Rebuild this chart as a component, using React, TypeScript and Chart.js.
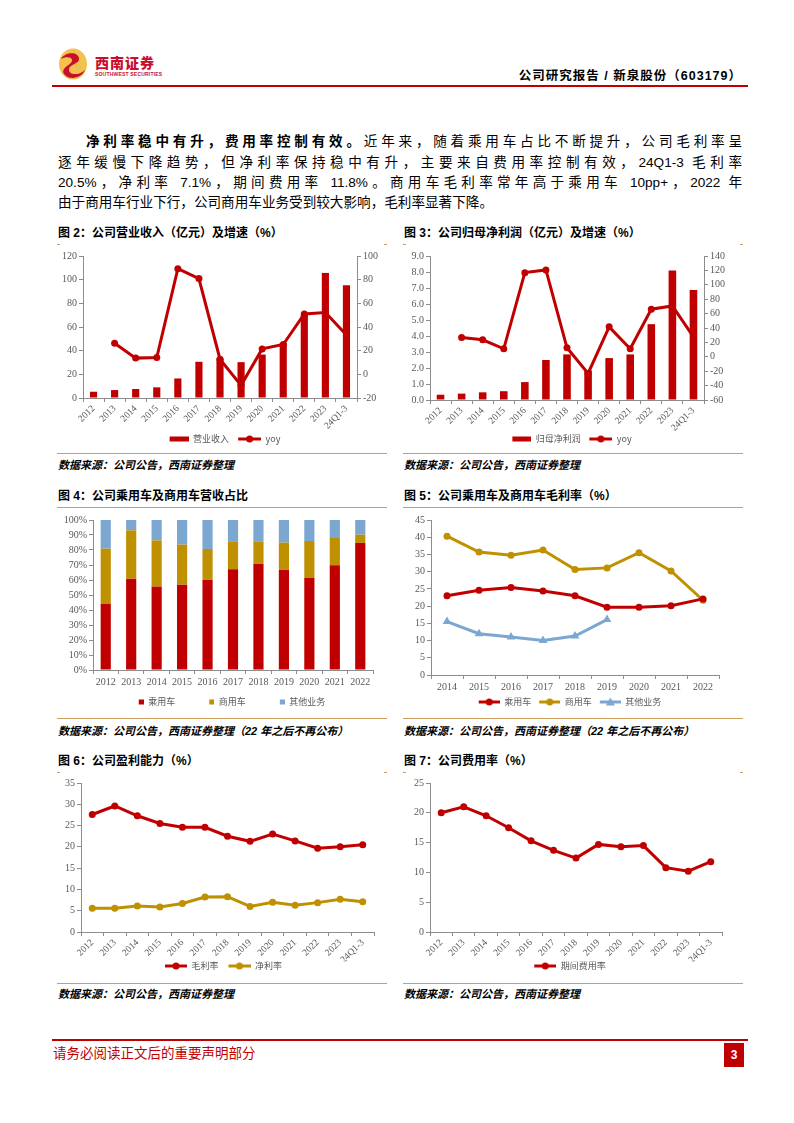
import React, { useEffect, useRef } from 'react';
import { Chart, registerables } from 'chart.js';
Chart.register(...registerables);

// ---------- data ----------
const LABELS13 = ['2012', '2013', '2014', '2015', '2016', '2017', '2018', '2019', '2020', '2021', '2022', '2023', '24Q1-3'];
const LABELS11 = ['2012', '2013', '2014', '2015', '2016', '2017', '2018', '2019', '2020', '2021', '2022'];
const LABELS9 = ['2014', '2015', '2016', '2017', '2018', '2019', '2020', '2021', '2022'];

const revenue = [5.3, 6.7, 7.6, 9.0, 16.5, 30.6, 33.6, 30.3, 36.7, 46.3, 70.6, 105.7, 95.3];
const revenueYoy = [null, 26.3, 13.7, 14.2, 89.3, 80.9, 12.8, -9.3, 21.5, 25.2, 51.0, 52.3, 33.3];

const netProfit = [0.33, 0.4, 0.48, 0.55, 1.12, 2.5, 2.85, 1.85, 2.62, 2.85, 4.74, 8.09, 6.88];
const netProfitYoy = [null, 26.8, 23.6, 11.1, 116.9, 120.6, 12.5, -23.1, 41.6, 11.1, 66.1, 70.7, 27.8];

const sharePassenger = [44.0, 60.9, 55.6, 56.9, 60.2, 67.1, 70.7, 66.7, 61.3, 69.8, 84.7];
const shareCommercial = [36.9, 32.2, 30.8, 26.7, 20.5, 18.7, 15.1, 18.2, 24.7, 18.2, 5.5];
const shareOther = [19.1, 6.9, 13.6, 16.4, 19.3, 14.2, 14.2, 15.1, 14.0, 12.0, 9.8];

const gmPassenger = [23.0, 24.6, 25.4, 24.4, 23.0, 19.7, 19.7, 20.1, 22.1];
const gmCommercial = [40.3, 35.7, 34.8, 36.3, 30.6, 31.1, 35.5, 30.2, 21.7];
const gmOther = [15.5, 12.0, 11.0, 10.0, 11.3, 16.1, null, null, null];

const grossMargin = [27.6, 29.6, 27.3, 25.5, 24.6, 24.6, 22.5, 21.3, 23.0, 21.4, 19.7, 20.0, 20.5];
const netMargin = [5.6, 5.6, 6.1, 5.9, 6.7, 8.2, 8.3, 6.0, 7.0, 6.3, 6.9, 7.7, 7.1];

const expenseRatio = [20.0, 21.0, 19.5, 17.5, 15.3, 13.7, 12.4, 14.7, 14.3, 14.5, 10.8, 10.2, 11.8];

// ---------- styles ----------
const SERIF = "'Liberation Serif','Times New Roman',serif";
const CJK = "'Noto Sans CJK SC','Noto Sans',sans-serif";
const BODY = "'Liberation Sans','Noto Sans CJK SC',sans-serif";
const TICK = '#595959';
const AXIS = '#8C8C8C';
const RED = '#C00000';
const GOLD = '#BF9000';
const BLUE = '#7BA7D1';
const ORANGE = '#CC9D5C';

function yAxis(min: number, max: number, step: number, width: number, position: string, fmt?: (v: number) => string) {
  return {
    type: 'linear',
    position,
    min,
    max,
    ticks: {
      stepSize: step,
      autoSkip: false,
      color: TICK,
      font: { family: SERIF, size: 10 },
      padding: 2,
      callback: fmt ? (v: any) => fmt(Number(v)) : (v: any) => String(v),
    },
    grid: { drawOnChartArea: false, drawTicks: true, tickLength: 4, color: AXIS },
    border: { color: AXIS, width: 1 },
    afterFit: (s: any) => {
      s.width = width;
    },
  };
}

function xAxis(height: number, rotate: boolean, stacked = false) {
  return {
    type: 'category',
    offset: true,
    stacked,
    ticks: {
      color: TICK,
      font: { family: SERIF, size: rotate ? 9.5 : 10 },
      minRotation: rotate ? 45 : 0,
      maxRotation: rotate ? 45 : 0,
      padding: rotate ? 1 : 2,
      autoSkip: false,
    },
    grid: { offset: true, drawOnChartArea: false, drawTicks: true, tickLength: 4, color: AXIS },
    border: { color: AXIS, width: 1 },
    afterFit: (s: any) => {
      s.height = height;
    },
  };
}

type Drawer = (ctx: CanvasRenderingContext2D, w: number, h: number) => void;

// line with a marker, starting at x0 (leading blank gives spacing between legend items)
const lineMark = (color: string, marker: 'circle' | 'triangle', x0 = 0): Drawer => (ctx, w, h) => {
  ctx.strokeStyle = color;
  ctx.lineWidth = 3;
  ctx.beginPath();
  ctx.moveTo(x0, h / 2);
  ctx.lineTo(w, h / 2);
  ctx.stroke();
  ctx.fillStyle = color;
  const cx = (x0 + w) / 2;
  ctx.beginPath();
  if (marker === 'circle') {
    ctx.arc(cx, h / 2, 3.5, 0, Math.PI * 2);
  } else {
    ctx.moveTo(cx, h / 2 - 4.5);
    ctx.lineTo(cx + 4.5, h / 2 + 3.5);
    ctx.lineTo(cx - 4.5, h / 2 + 3.5);
    ctx.closePath();
  }
  ctx.fill();
};

const rectMark = (color: string, x0: number, rw: number, rh: number): Drawer => (ctx, w, h) => {
  ctx.fillStyle = color;
  ctx.fillRect(x0, (h - rh) / 2, rw, rh);
};

function makeLegend(items: { text: string; draw: Drawer }[], boxW: number, pad: number) {
  const imgs = items.map((it) => {
    const c = document.createElement('canvas');
    c.width = boxW;
    c.height = 12;
    it.draw(c.getContext('2d') as CanvasRenderingContext2D, boxW, 12);
    return c;
  });
  return {
    display: true,
    position: 'bottom',
    labels: {
      usePointStyle: true,
      pointStyleWidth: boxW,
      boxHeight: 10,
      padding: pad,
      color: TICK,
      font: { family: CJK, size: 9 },
      generateLabels: () =>
        items.map((it, i) => ({
          text: it.text,
          pointStyle: imgs[i],
          fillStyle: 'rgba(0,0,0,0)',
          strokeStyle: 'rgba(0,0,0,0)',
          lineWidth: 0,
          hidden: false,
          datasetIndex: i,
          fontColor: TICK,
        })),
    },
  };
}

const lineDs = (label: string, data: any[], color: string, yAxisID = 'y', style = 'circle', r = 3.5) => ({
  type: 'line',
  label,
  data,
  borderColor: color,
  backgroundColor: color,
  borderWidth: 3,
  pointStyle: style,
  pointRadius: r,
  pointBackgroundColor: color,
  pointBorderColor: color,
  pointBorderWidth: 0,
  tension: 0,
  yAxisID,
  order: 1,
});

// ---------- chart configs ----------
const makeFig2 = () => ({
  type: 'bar',
  data: {
    labels: LABELS13,
    datasets: [
      { type: 'bar', label: '营业收入', data: revenue, backgroundColor: RED, yAxisID: 'y', barPercentage: 0.34, categoryPercentage: 1, order: 2 },
      lineDs('yoy', revenueYoy, RED, 'y1'),
    ],
  },
  options: {
    animation: false,
    responsive: false,
    layout: { padding: { top: 10, left: 4, right: 8, bottom: 2.5 } },
    plugins: {
      tooltip: { enabled: false },
      legend: makeLegend(
        [
          { text: '营业收入', draw: rectMark(RED, 10, 19, 5) },
          { text: 'yoy', draw: lineMark(RED, 'circle', 6) },
        ],
        29,
        3
      ),
    },
    scales: {
      x: xAxis(33.5, true),
      y: yAxis(0, 120, 20, 22, 'left'),
      y1: yAxis(-20, 100, 20, 22, 'right'),
    },
  },
});

const makeFig3 = () => ({
  type: 'bar',
  data: {
    labels: LABELS13,
    datasets: [
      { type: 'bar', label: '归母净利润', data: netProfit, backgroundColor: RED, yAxisID: 'y', barPercentage: 0.36, categoryPercentage: 1, order: 2 },
      lineDs('yoy', netProfitYoy, RED, 'y1'),
    ],
  },
  options: {
    animation: false,
    responsive: false,
    layout: { padding: { top: 10, left: 1, right: 13, bottom: 2.5 } },
    plugins: {
      tooltip: { enabled: false },
      legend: makeLegend(
        [
          { text: '归母净利润', draw: rectMark(RED, 10, 19, 5) },
          { text: 'yoy', draw: lineMark(RED, 'circle', 6) },
        ],
        29,
        2.5
      ),
    },
    scales: {
      x: xAxis(32, true),
      y: yAxis(0, 9, 1, 26, 'left', (v) => v.toFixed(1)),
      y1: yAxis(-60, 140, 20, 26, 'right'),
    },
  },
});

const makeFig4 = () => ({
  type: 'bar',
  data: {
    labels: LABELS11,
    datasets: [
      { label: '乘用车', data: sharePassenger, backgroundColor: RED, barPercentage: 0.4, categoryPercentage: 1 },
      { label: '商用车', data: shareCommercial, backgroundColor: GOLD, barPercentage: 0.4, categoryPercentage: 1 },
      { label: '其他业务', data: shareOther, backgroundColor: BLUE, barPercentage: 0.4, categoryPercentage: 1 },
    ],
  },
  options: {
    animation: false,
    responsive: false,
    layout: { padding: { top: 11, left: 6, right: 14, bottom: 2.5 } },
    plugins: {
      tooltip: { enabled: false },
      legend: makeLegend(
        [
          { text: '乘用车', draw: rectMark(RED, 28, 5, 5) },
          { text: '商用车', draw: rectMark(GOLD, 28, 5, 5) },
          { text: '其他业务', draw: rectMark(BLUE, 28, 5, 5) },
        ],
        33,
        6
      ),
    },
    scales: {
      x: xAxis(21.5, false, true),
      y: { ...yAxis(0, 100, 10, 30, 'left', (v) => v + '%'), stacked: true },
    },
  },
});

const makeFig5 = () => ({
  type: 'line',
  data: {
    labels: LABELS9,
    datasets: [
      lineDs('乘用车', gmPassenger, RED),
      lineDs('商用车', gmCommercial, GOLD),
      lineDs('其他业务', gmOther, BLUE, 'y', 'triangle', 5),
    ],
  },
  options: {
    animation: false,
    responsive: false,
    layout: { padding: { top: 11, left: 10, right: 24, bottom: 2.5 } },
    plugins: {
      tooltip: { enabled: false },
      legend: makeLegend(
        [
          { text: '乘用车', draw: lineMark(RED, 'circle', 8) },
          { text: '商用车', draw: lineMark(GOLD, 'circle', 8) },
          { text: '其他业务', draw: lineMark(BLUE, 'triangle', 8) },
        ],
        29,
        0
      ),
    },
    scales: {
      x: xAxis(22.5, false),
      y: yAxis(0, 45, 5, 18, 'left'),
    },
  },
});

const makeFig6 = () => ({
  type: 'line',
  data: {
    labels: LABELS13,
    datasets: [lineDs('毛利率', grossMargin, RED), lineDs('净利率', netMargin, GOLD)],
  },
  options: {
    animation: false,
    responsive: false,
    layout: { padding: { top: 9, left: 6, right: 13, bottom: 3.5 } },
    plugins: {
      tooltip: { enabled: false },
      legend: makeLegend(
        [
          { text: '毛利率', draw: lineMark(RED, 'circle', 10) },
          { text: '净利率', draw: lineMark(GOLD, 'circle', 10) },
        ],
        32,
        0
      ),
    },
    scales: {
      x: xAxis(29.5, true),
      y: yAxis(0, 35, 5, 18, 'left'),
    },
  },
});

const makeFig7 = () => ({
  type: 'line',
  data: {
    labels: LABELS13,
    datasets: [lineDs('期间费用率', expenseRatio, RED)],
  },
  options: {
    animation: false,
    responsive: false,
    layout: { padding: { top: 9, left: 9, right: 21, bottom: 3.5 } },
    plugins: {
      tooltip: { enabled: false },
      legend: makeLegend([{ text: '期间费用率', draw: lineMark(RED, 'circle', 6) }], 28, 0),
    },
    scales: {
      x: xAxis(29.5, true),
      y: yAxis(0, 25, 5, 18, 'left'),
    },
  },
});

// ---------- components ----------
function ChartBox({ left, top, width, height, make }: { left: number; top: number; width: number; height: number; make: () => any }) {
  const ref = useRef<HTMLCanvasElement>(null);
  useEffect(() => {
    const chart = new Chart(ref.current as HTMLCanvasElement, make());
    return () => chart.destroy();
  }, []);
  return <canvas ref={ref} width={width} height={height} style={{ position: 'absolute', left, top, width, height }} />;
}

const abs = (s: React.CSSProperties): React.CSSProperties => ({ position: 'absolute', ...s });

function Frame({ x, w, titleY, lineY, bottomY, srcY, title, source, fullLine }: any) {
  return (
    <>
      <div style={abs({ left: x + 1, top: titleY - 9, height: 18, lineHeight: '18px', fontFamily: BODY, fontWeight: 700, fontSize: 12, color: '#000', whiteSpace: 'nowrap' })}>{title}</div>
      {fullLine ? (
        <div style={abs({ left: x, top: lineY, width: w, height: 1.3, background: ORANGE })} />
      ) : (
        <>
          <div style={abs({ left: x, top: lineY, width: 3, height: 1.3, background: ORANGE })} />
          <div style={abs({ left: x + w - 3, top: lineY, width: 3, height: 1.3, background: ORANGE })} />
        </>
      )}
      <div style={abs({ left: x, top: bottomY, width: w, height: 1.3, background: ORANGE })} />
      <div style={abs({ left: x + 1, top: srcY - 8, height: 16, lineHeight: '16px', fontFamily: BODY, fontWeight: 700, fontStyle: 'italic', fontSize: 11, color: '#000', whiteSpace: 'nowrap' })}>{source}</div>
    </>
  );
}

const paraLine = (center: number, left: number, width: number, justify: boolean): React.CSSProperties => ({
  position: 'absolute',
  left,
  top: center - 10,
  width,
  height: 20,
  lineHeight: '20px',
  fontFamily: BODY,
  fontSize: 13.6,
  color: '#000',
  whiteSpace: 'nowrap',
  textAlign: justify ? 'justify' : 'left',
  textAlignLast: justify ? 'justify' : 'left',
});

export default function App() {
  const SRC = '数据来源：公司公告，西南证券整理';
  const SRC2 = '数据来源：公司公告，西南证券整理（22 年之后不再公布）';
  return (
    <div style={{ position: 'absolute', left: 0, top: 0, width: 794, height: 1123, background: '#fff', overflow: 'hidden' }}>
      {/* header */}
      <svg style={abs({ left: 57, top: 48 })} width="32" height="32" viewBox="0 0 32 32">
        <ellipse cx="16" cy="16" rx="14" ry="15.5" fill="#F2C14E" />
        <path d="M4 11 C 9 3, 22 4, 22 11 C 22 16, 13 16, 12 21 C 11 26, 20 29, 28 22 C 25 30, 12 33, 7 26 C 3 20, 14 17, 15 13 C 16 9, 9 8, 4 11 Z" fill="#C8102E" />
      </svg>
      <div style={abs({ left: 95, top: 54, fontFamily: CJK, fontWeight: 900, fontSize: 14, color: '#C8102E', letterSpacing: 1, lineHeight: '16px' })}>西南证券</div>
      <div style={abs({ left: 95, top: 71, fontFamily: BODY, fontSize: 5, fontWeight: 700, color: '#C8102E', lineHeight: '6px', letterSpacing: 0.2 })}>SOUTHWEST SECURITIES</div>
      <div style={abs({ right: 794 - 742, top: 67, fontFamily: BODY, fontWeight: 700, fontSize: 12.5, color: '#000', lineHeight: '18px', letterSpacing: 1, whiteSpace: 'nowrap' })}>公司研究报告 / 新泉股份（603179）</div>
      <div style={abs({ left: 52, top: 85, width: 696, height: 1.5, background: '#C00000' })} />

      {/* paragraph */}
      <div style={paraLine(142, 86, 656, true)}>
        <b>净利率稳中有升，费用率控制有效。</b>近年来，随着乘用车占比不断提升，公司毛利率呈
      </div>
      <div style={paraLine(162.5, 58, 684, true)}>逐年缓慢下降趋势，但净利率保持稳中有升，主要来自费用率控制有效，24Q1-3 毛利率</div>
      <div style={paraLine(183, 58, 684, true)}>20.5%，净利率 7.1%，期间费用率 11.8%。商用车毛利率常年高于乘用车 10pp+，2022 年</div>
      <div style={paraLine(203, 58, 684, false)}>由于商用车行业下行，公司商用车业务受到较大影响，毛利率显著下降。</div>

      {/* row 1 */}
      <Frame x={57} w={330} titleY={233} lineY={244} bottomY={453} srcY={465} title="图 2：公司营业收入（亿元）及增速（%）" source={SRC} fullLine={false} />
      <Frame x={403} w={340} titleY={233} lineY={244} bottomY={453} srcY={465} title="图 3：公司归母净利润（亿元）及增速（%）" source={SRC} fullLine={false} />
      <ChartBox left={57} top={246} width={330} height={210} make={makeFig2} />
      <ChartBox left={403} top={246} width={340} height={210} make={makeFig3} />

      {/* row 2 */}
      <Frame x={57} w={330} titleY={496} lineY={507} bottomY={718} srcY={731} title="图 4：公司乘用车及商用车营收占比" source={SRC2} fullLine={true} />
      <Frame x={403} w={340} titleY={496} lineY={507} bottomY={718} srcY={731} title="图 5：公司乘用车及商用车毛利率（%）" source={SRC2} fullLine={true} />
      <ChartBox left={57} top={509} width={330} height={210} make={makeFig4} />
      <ChartBox left={403} top={509} width={340} height={210} make={makeFig5} />

      {/* row 3 */}
      <Frame x={57} w={330} titleY={761} lineY={772} bottomY={983} srcY={994} title="图 6：公司盈利能力（%）" source={SRC} fullLine={false} />
      <Frame x={403} w={340} titleY={761} lineY={772} bottomY={983} srcY={994} title="图 7：公司费用率（%）" source={SRC} fullLine={false} />
      <ChartBox left={57} top={774} width={330} height={210} make={makeFig6} />
      <ChartBox left={403} top={774} width={340} height={210} make={makeFig7} />

      {/* footer */}
      <div style={abs({ left: 52, top: 1039, width: 696, height: 1.5, background: '#C00000' })} />
      <div style={abs({ left: 53, top: 1043, fontFamily: CJK, fontSize: 13.5, color: '#C00000', lineHeight: '18px', whiteSpace: 'nowrap' })}>请务必阅读正文后的重要声明部分</div>
      <div style={abs({ left: 724, top: 1043, width: 20, height: 24, background: '#C00000', color: '#fff', fontFamily: BODY, fontWeight: 700, fontSize: 12, lineHeight: '24px', textAlign: 'center' })}>3</div>
    </div>
  );
}
